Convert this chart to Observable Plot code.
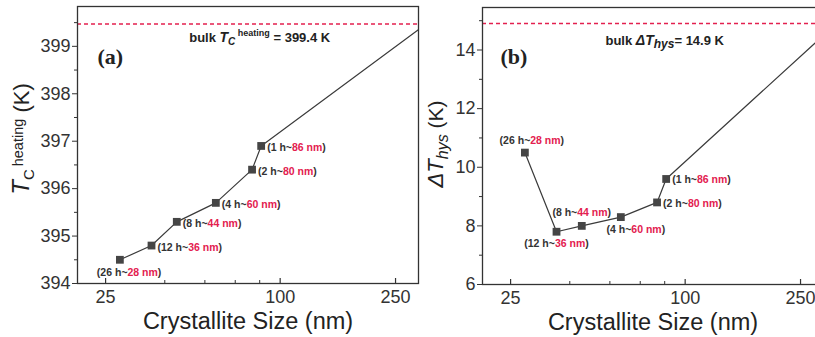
<!DOCTYPE html>
<html><head><meta charset="utf-8">
<script src="https://cdn.jsdelivr.net/npm/d3@7"></script>
<script src="https://cdn.jsdelivr.net/npm/@observablehq/plot@0.6"></script>
<style>
html,body{margin:0;padding:0;background:#fff;overflow:hidden;}
#wrap{position:relative;width:815px;height:337px;overflow:hidden;background:#fff;}
#a,#b{position:absolute;top:0;width:420px;height:337px;}
#a{left:0}
#b{left:420px}
#a svg,#b svg{max-width:none !important;width:420px;height:337px;}
</style></head><body><div id="wrap"><div id="a"></div><div id="b"></div></div>
<script>
// ---- data ----
const sizes = [28, 36, 44, 60, 80, 86];          // crystallite size (nm)
const hours = [26, 12, 8, 4, 2, 1];              // milling time (h)
const tcHeating = [394.5, 394.8, 395.3, 395.7, 396.4, 396.9]; // Tc heating (K)
const dtHys = [10.5, 7.8, 8.0, 8.3, 8.8, 9.6];   // ΔT hys (K)
const bulkTc = 399.47;      // dashed bulk line, panel (a)
const bulkDt = 14.9;        // dashed bulk line, panel (b)
const trendEndSize = 300;
const trendEndTc = 399.35;
const trendEndDt = 14.5;
const xTicks = [25, 100, 250];
const xMinorTicks = [40, 55, 70, 85];
const tcTicks = [394, 395, 396, 397, 398, 399];
const tcMinorTicks = [394.5, 395.5, 396.5, 397.5, 398.5, 399.5];
const dtTicks = [6, 8, 10, 12, 14];
const dtMinorTicks = [7, 9, 11, 13, 15];

const RED = "#e3204f";
const INK = "#333";
const FONT = "'Liberation Sans', Arial, sans-serif";

const ptsA = sizes.map((s, i) => ({size: s, v: tcHeating[i], h: hours[i], label: `(${hours[i]} h~${s} nm)`}));
const ptsB = sizes.map((s, i) => ({size: s, v: dtHys[i], h: hours[i], label: `(${hours[i]} h~${s} nm)`}));
const lineA = [...ptsA, {size: trendEndSize, v: trendEndTc}];
const lineB = [...ptsB, {size: trendEndSize, v: trendEndDt}];

const NS = "http://www.w3.org/2000/svg";
function rich(el, parts) {
  el.textContent = "";
  for (const p of parts) {
    const ts = document.createElementNS(NS, "tspan");
    ts.textContent = p.t;
    if (p.fill) ts.setAttribute("fill", p.fill);
    if (p.italic) ts.setAttribute("font-style", "italic");
    if (p.size) ts.setAttribute("font-size", p.size);
    if (p.dy) ts.setAttribute("dy", p.dy);
    if (p.weight) ts.setAttribute("font-weight", p.weight);
    el.appendChild(ts);
  }
}
function sel(svg, tag) {
  return svg.querySelectorAll(`g[aria-description="${tag}"] text`);
}
function colorLabels(svg) {
  sel(svg, "ptlabel").forEach(t => {
    const m = t.textContent.match(/^\((\d+ h~)(\d+ nm)\)$/);
    if (m) rich(t, [{t: "(" + m[1]}, {t: m[2], fill: RED}, {t: ")"}]);
  });
}
function lbl(data, opts) {
  return Plot.text(data, {x: "size", y: "v", text: "label", fontSize: 10.5, fontWeight: "bold",
    fill: INK, ariaDescription: "ptlabel", lineAnchor: "middle", ...opts});
}
function common(innerH) {
  return [
    Plot.ruleX(xTicks, {insetTop: innerH - 5, stroke: INK, strokeWidth: 1.2}),
    Plot.ruleX(xMinorTicks, {insetTop: innerH - 3, stroke: INK, strokeWidth: 1}),
    Plot.axisX({ticks: xTicks, tickSize: 0, tickPadding: 7, tickFormat: String, label: null, fontSize: 18, fill: INK}),
    Plot.text(["Crystallite Size (nm)"], {frameAnchor: "bottom", lineAnchor: "middle", dy: 38, fontSize: 23.5, fill: "#222"})
  ];
}

// ---- panel (a) ----
const svgA = Plot.plot({
  width: 420, height: 337, marginLeft: 77, marginRight: 2, marginTop: 6, marginBottom: 54,
  style: {fontFamily: FONT, fontSize: "18px", color: INK, background: "none"},
  x: {type: "log", domain: [20, 300]},
  y: {domain: [394, 399.84]},
  marks: [
    Plot.ruleY([bulkTc], {stroke: RED, strokeWidth: 1.5, strokeDasharray: "4,3"}),
    Plot.line(lineA, {x: "size", y: "v", stroke: "#3a3a3a", strokeWidth: 1.2, clip: true}),
    Plot.dot(ptsA, {x: "size", y: "v", symbol: "square", r: 4.4, fill: "#454545"}),
    lbl(ptsA.slice(1), {textAnchor: "start", dx: 6, dy: 2}),
    lbl(ptsA.slice(0, 1), {textAnchor: "start", dx: -23, dy: 13}),
    Plot.frame({stroke: INK, strokeWidth: 1.3}),
    Plot.axisY({ticks: tcTicks, tickSize: 5, tickPadding: 2, tickFormat: String, label: null, fontSize: 18, fill: INK}),
    Plot.axisY({ticks: tcMinorTicks, tickSize: 3, tickFormat: () => "", label: null}),
    ...common(277),
    Plot.text(["(a)"], {frameAnchor: "top-left", lineAnchor: "middle", dx: 20, dy: 50, textAnchor: "start", fontSize: 22,
      fontWeight: "bold", fontFamily: "'Liberation Serif', serif", fill: "#222"}),
    Plot.text(["bulk Tc heating = 399.4 K"], {x: 85, y: 399.19, lineAnchor: "middle", fontSize: 13, fontWeight: "bold", fill: "#222", ariaDescription: "bulkA"}),
    Plot.text(["Tc heating (K)"], {frameAnchor: "left", textAnchor: "middle", lineAnchor: "middle", dx: -56, dy: -6, rotate: -90, fontSize: 23, fill: "#222", ariaDescription: "ytitleA"})
  ]
});
colorLabels(svgA);
sel(svgA, "bulkA").forEach(t => rich(t, [
  {t: "bulk "}, {t: "T", italic: true, size: 14}, {t: "C", italic: true, size: 10, dy: 3},
  {t: " heating", size: 9, dy: -9}, {t: " = 399.4 K", size: 13, dy: 6}
]));
sel(svgA, "ytitleA").forEach(t => rich(t, [
  {t: "T", italic: true, size: 24}, {t: "C", size: 15, dy: 5}, {t: "\u2009heating", size: 14.5, dy: -11}, {t: " (K)", size: 22, dy: 6}
]));
document.getElementById("a").appendChild(svgA);

// ---- panel (b) ----
const svgB = Plot.plot({
  width: 420, height: 337, marginLeft: 62, marginRight: 17, marginTop: 7, marginBottom: 53,
  style: {fontFamily: FONT, fontSize: "18px", color: INK, background: "none"},
  x: {type: "log", domain: [20, 300]},
  y: {domain: [6, 15.45]},
  marks: [
    Plot.ruleY([bulkDt], {stroke: RED, strokeWidth: 1.5, strokeDasharray: "4,3"}),
    Plot.line(lineB, {x: "size", y: "v", stroke: "#3a3a3a", strokeWidth: 1.2, clip: true}),
    Plot.dot(ptsB, {x: "size", y: "v", symbol: "square", r: 4.4, fill: "#454545"}),
    lbl(ptsB.slice(0, 1), {textAnchor: "middle", dx: 7, dy: -12}),
    lbl(ptsB.slice(1, 2), {textAnchor: "middle", dx: 0, dy: 12}),
    lbl(ptsB.slice(2, 3), {textAnchor: "middle", dx: 0, dy: -13}),
    lbl(ptsB.slice(3, 4), {textAnchor: "middle", dx: 15, dy: 13}),
    lbl(ptsB.slice(4), {textAnchor: "start", dx: 6, dy: 1}),
    Plot.frame({stroke: INK, strokeWidth: 1.3}),
    Plot.axisY({ticks: dtTicks, tickSize: 5, tickPadding: 2, tickFormat: String, label: null, fontSize: 18, fill: INK}),
    Plot.axisY({ticks: dtMinorTicks, tickSize: 3, tickFormat: () => "", label: null}),
    ...common(277),
    Plot.text(["(b)"], {frameAnchor: "top-left", lineAnchor: "middle", dx: 18, dy: 49, textAnchor: "start", fontSize: 22,
      fontWeight: "bold", fontFamily: "'Liberation Serif', serif", fill: "#222"}),
    Plot.text(["bulk ΔThys= 14.9 K"], {x: 85, y: 14.33, lineAnchor: "middle", fontSize: 13, fontWeight: "bold", fill: "#222", ariaDescription: "bulkB"}),
    Plot.text(["ΔThys (K)"], {frameAnchor: "left", textAnchor: "middle", lineAnchor: "middle", dx: -47, dy: -2, rotate: -90, fontSize: 22, fill: "#222", ariaDescription: "ytitleB"})
  ]
});
colorLabels(svgB);
sel(svgB, "bulkB").forEach(t => rich(t, [
  {t: "bulk "}, {t: "ΔT", italic: true, size: 14}, {t: "hys", italic: true, size: 12, dy: 3}, {t: "= 14.9 K", size: 13, dy: -3}
]));
sel(svgB, "ytitleB").forEach(t => rich(t, [
  {t: "ΔT", italic: true}, {t: "hys", italic: true, size: 16, dy: 5}, {t: " (K)", size: 21, dy: -5}
]));
document.getElementById("b").appendChild(svgB);
</script>
</body></html>
